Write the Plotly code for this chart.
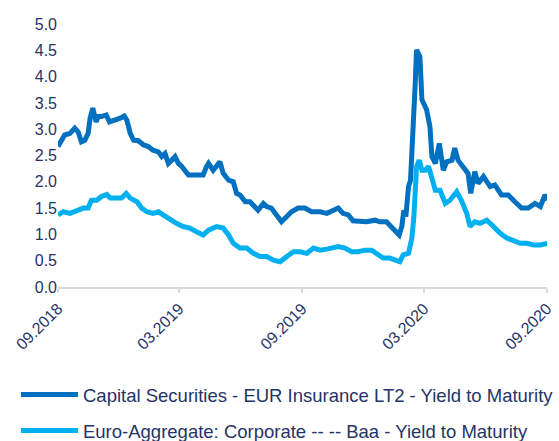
import plotly.graph_objects as go

dates_cs = [
    "2018-09-01", "2018-09-11", "2018-09-19", "2018-09-26", "2018-10-01", "2018-10-06",
    "2018-10-11", "2018-10-16", "2018-10-19", "2018-10-23", "2018-10-28", "2018-10-31",
    "2018-11-05", "2018-11-12", "2018-11-17", "2018-11-25", "2018-12-03", "2018-12-09",
    "2018-12-13", "2018-12-18", "2018-12-23", "2018-12-30", "2019-01-07", "2019-01-14",
    "2019-01-21", "2019-01-29", "2019-02-03", "2019-02-08", "2019-02-13", "2019-02-18",
    "2019-02-23", "2019-02-28", "2019-03-05", "2019-03-15", "2019-03-25", "2019-04-06",
    "2019-04-11", "2019-04-14", "2019-04-21", "2019-04-26", "2019-05-01", "2019-05-06",
    "2019-05-14", "2019-05-21", "2019-05-26", "2019-05-31", "2019-06-08", "2019-06-15",
    "2019-06-23", "2019-06-27", "2019-07-05", "2019-07-10", "2019-07-17", "2019-07-25",
    "2019-08-01", "2019-08-09", "2019-08-16", "2019-08-26", "2019-09-05", "2019-09-15",
    "2019-09-28", "2019-10-08", "2019-10-18", "2019-10-25", "2019-11-01", "2019-11-09",
    "2019-11-16", "2019-11-26", "2019-12-06", "2019-12-19", "2019-12-26", "2020-01-05",
    "2020-01-13", "2020-01-20", "2020-01-24", "2020-01-28", "2020-01-31", "2020-02-03",
    "2020-02-07", "2020-02-10", "2020-02-14", "2020-02-17", "2020-02-19", "2020-02-22",
    "2020-02-24", "2020-02-27", "2020-02-29", "2020-03-05", "2020-03-10", "2020-03-13",
    "2020-03-18", "2020-03-24", "2020-03-30", "2020-04-04", "2020-04-12", "2020-04-16",
    "2020-04-21", "2020-04-29", "2020-05-06", "2020-05-10", "2020-05-16", "2020-05-21",
    "2020-05-29", "2020-06-08", "2020-06-15", "2020-06-25", "2020-07-05", "2020-07-15",
    "2020-07-25", "2020-08-04", "2020-08-14", "2020-08-22", "2020-08-29", "2020-09-02",
]
cap_sec = [
    2.67, 2.89, 2.92, 3.02, 2.95, 2.76,
    2.79, 2.92, 3.21, 3.40, 3.14, 3.24,
    3.24, 3.27, 3.14, 3.17, 3.21, 3.25,
    3.17, 2.92, 2.79, 2.78, 2.70, 2.67,
    2.60, 2.57, 2.48, 2.54, 2.35, 2.41,
    2.48, 2.35, 2.29, 2.13, 2.13, 2.13,
    2.29, 2.35, 2.22, 2.32, 2.38, 2.16,
    2.03, 2.00, 1.78, 1.75, 1.62, 1.62,
    1.53, 1.46, 1.59, 1.53, 1.50, 1.34,
    1.24, 1.34, 1.43, 1.50, 1.50, 1.43,
    1.43, 1.40, 1.46, 1.50, 1.40, 1.37,
    1.26, 1.24, 1.24, 1.27, 1.24, 1.24,
    1.12, 1.02, 0.99, 1.15, 1.46, 1.34,
    1.91, 2.03, 2.92, 3.87, 4.51, 4.44,
    4.38, 3.56, 3.49, 3.37, 3.05, 2.48,
    2.35, 2.73, 2.22, 2.38, 2.41, 2.64,
    2.41, 2.29, 2.16, 1.78, 2.19, 1.97,
    2.10, 1.91, 1.94, 1.75, 1.75, 1.62,
    1.50, 1.50, 1.59, 1.53, 1.75, 1.65,
]

dates_ea = [
    "2018-09-01", "2018-09-09", "2018-09-19", "2018-09-29", "2018-10-09", "2018-10-16",
    "2018-10-21", "2018-10-29", "2018-11-05", "2018-11-13", "2018-11-18", "2018-11-28",
    "2018-12-05", "2018-12-12", "2018-12-18", "2018-12-28", "2019-01-04", "2019-01-12",
    "2019-01-21", "2019-01-29", "2019-02-05", "2019-02-15", "2019-02-25", "2019-03-07",
    "2019-03-17", "2019-03-27", "2019-04-06", "2019-04-14", "2019-04-26", "2019-05-06",
    "2019-05-14", "2019-05-21", "2019-05-31", "2019-06-10", "2019-06-20", "2019-06-30",
    "2019-07-10", "2019-07-20", "2019-07-30", "2019-08-09", "2019-08-19", "2019-08-29",
    "2019-09-08", "2019-09-18", "2019-09-28", "2019-10-08", "2019-10-18", "2019-10-25",
    "2019-11-04", "2019-11-14", "2019-11-24", "2019-12-04", "2019-12-14", "2019-12-21",
    "2019-12-31", "2020-01-10", "2020-01-18", "2020-01-25", "2020-01-30", "2020-02-07",
    "2020-02-12", "2020-02-15", "2020-02-19", "2020-02-23", "2020-02-27", "2020-03-03",
    "2020-03-08", "2020-03-13", "2020-03-18", "2020-03-25", "2020-04-02", "2020-04-09",
    "2020-04-19", "2020-04-26", "2020-05-04", "2020-05-09", "2020-05-16", "2020-05-24",
    "2020-06-03", "2020-06-13", "2020-06-23", "2020-07-03", "2020-07-13", "2020-07-23",
    "2020-08-02", "2020-08-12", "2020-08-22", "2020-08-29", "2020-09-02",
]
euro_agg = [
    1.37, 1.43, 1.40, 1.46, 1.50, 1.50,
    1.65, 1.65, 1.72, 1.76, 1.69, 1.69,
    1.69, 1.78, 1.69, 1.62, 1.50, 1.43,
    1.40, 1.43, 1.37, 1.27, 1.21, 1.15,
    1.12, 1.05, 0.99, 1.08, 1.15, 1.12,
    0.99, 0.83, 0.74, 0.74, 0.64, 0.58,
    0.58, 0.51, 0.48, 0.58, 0.67, 0.67,
    0.64, 0.74, 0.70, 0.72, 0.74, 0.77,
    0.74, 0.67, 0.67, 0.70, 0.70, 0.64,
    0.55, 0.55, 0.51, 0.48, 0.61, 0.64,
    0.93, 1.34, 2.29, 2.41, 2.22, 2.22,
    2.29, 2.10, 1.84, 1.84, 1.59, 1.65,
    1.81, 1.65, 1.40, 1.15, 1.24, 1.21,
    1.27, 1.15, 1.02, 0.93, 0.89, 0.83,
    0.83, 0.80, 0.80, 0.83, 0.83,
]

name_cs = "Capital Securities - EUR Insurance LT2 - Yield to Maturity"
name_ea = "Euro-Aggregate: Corporate -- -- Baa - Yield to Maturity"

text_color = "#1F3468"
font_family = "Liberation Sans, Arial, sans-serif"

fig = go.Figure()
fig.add_trace(go.Scatter(x=dates_cs, y=cap_sec, mode="lines", name=name_cs,
                         legendgroup="cs",
                         line=dict(color="#0070C0", width=5)))
fig.add_trace(go.Scatter(x=dates_ea, y=euro_agg, mode="lines", name=name_ea,
                         legendgroup="ea",
                         line=dict(color="#00B0F0", width=5)))

fig.update_layout(
    width=559, height=441,
    margin=dict(l=58, r=12, t=24, b=154, autoexpand=False),
    paper_bgcolor="white", plot_bgcolor="white",
    font=dict(family=font_family, size=16, color=text_color),
    showlegend=True,
    legend=dict(orientation="v", xref="container", yref="container",
                x=0.0286, xanchor="left", y=0.1474, yanchor="top",
                font=dict(size=18.5, color=text_color), itemwidth=57,
                tracegroupgap=9, bgcolor="rgba(0,0,0,0)"),
)
fig.update_xaxes(
    type="date", range=["2018-09-01", "2020-09-01"],
    tickmode="linear", tick0="2018-09-01", dtick="M6", tickformat="%m.%Y",
    tickangle=-45, showgrid=False, zeroline=False,
    showline=True, linecolor="#D9D9D9", linewidth=2,
    ticks="outside", ticklen=4, tickcolor="#D9D9D9", tickwidth=2,
    tickfont=dict(size=16, color=text_color),
)
fig.update_yaxes(
    range=[0, 5], tickmode="linear", tick0=0, dtick=0.5, tickformat=".1f",
    showgrid=False, zeroline=False, showline=False, ticks="",
    tickfont=dict(size=16, color=text_color),
)

fig.write_html("out.html", config={"displayModeBar": False},
               post_script="document.body.style.margin='0';document.body.style.overflow='hidden';")
